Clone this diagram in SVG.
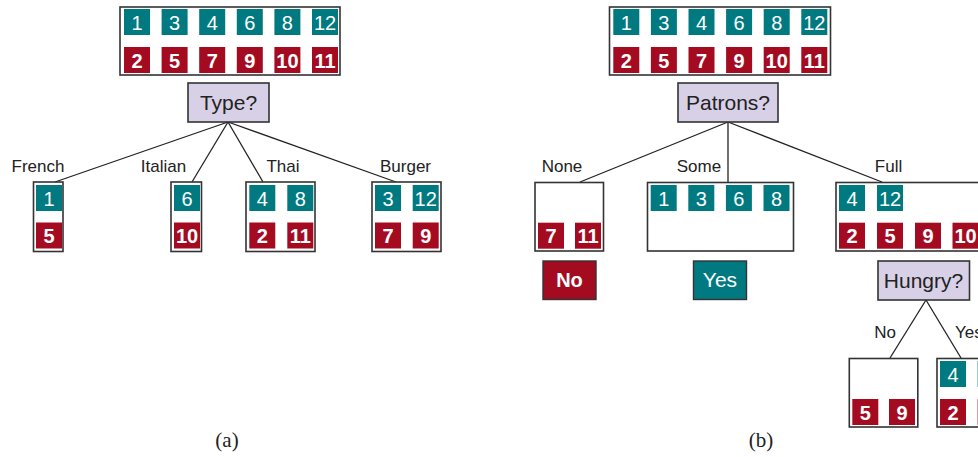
<svg xmlns="http://www.w3.org/2000/svg" width="978" height="457" viewBox="0 0 978 457">
<style>
.box{fill:#fff;stroke:#333;stroke-width:1.6}
.q{fill:#d8d0e7;stroke:#333;stroke-width:1.6}
.t{fill:#007a80}
.r{fill:#a50b20}
.tn{font-family:"Liberation Sans",Arial,sans-serif;font-size:20px;fill:#fff;text-anchor:middle}
.rn{font-family:"Liberation Sans",Arial,sans-serif;font-size:20px;font-weight:bold;fill:#fff;text-anchor:middle}
.ql{font-family:"Liberation Sans",Arial,sans-serif;font-size:21px;fill:#222;text-anchor:middle}
.bl{font-family:"Liberation Sans",Arial,sans-serif;font-size:17px;fill:#222;text-anchor:middle}
.cap{font-family:"Liberation Serif","Times New Roman",serif;font-size:21px;fill:#222;text-anchor:middle}
.edge{stroke:#222;stroke-width:1.3;fill:none}
</style>
<g id="connectors">
<line class="edge" x1="228" y1="122" x2="55" y2="182"/>
<line class="edge" x1="228" y1="122" x2="192" y2="182"/>
<line class="edge" x1="228" y1="122" x2="263" y2="182"/>
<line class="edge" x1="228" y1="122" x2="396" y2="182"/>
<line class="edge" x1="728" y1="122" x2="580" y2="182"/>
<line class="edge" x1="728" y1="122" x2="728" y2="182"/>
<line class="edge" x1="728" y1="122" x2="882" y2="182"/>
<line class="edge" x1="926" y1="300" x2="890" y2="358"/>
<line class="edge" x1="926" y1="300" x2="961" y2="358"/>
</g>
<g id="edge-labels">
<text class="bl" x="38" y="172">French</text>
<text class="bl" x="163.5" y="172">Italian</text>
<text class="bl" x="283" y="172">Thai</text>
<text class="bl" x="405.5" y="172">Burger</text>
<text class="bl" x="562" y="172">None</text>
<text class="bl" x="699" y="172">Some</text>
<text class="bl" x="888.5" y="172">Full</text>
<text class="bl" x="885" y="338">No</text>
<text class="bl" x="955" y="338" style="text-anchor:start">Yes</text>
</g>
<g id="a-root">
<rect class="box" x="120" y="7" width="220" height="68"/>
<rect class="t" x="124" y="9" width="26" height="26"/><text class="tn" x="137" y="29.5">1</text>
<rect class="t" x="161.6" y="9" width="26" height="26"/><text class="tn" x="174.6" y="29.5">3</text>
<rect class="t" x="199.2" y="9" width="26" height="26"/><text class="tn" x="212.2" y="29.5">4</text>
<rect class="t" x="236.8" y="9" width="26" height="26"/><text class="tn" x="249.8" y="29.5">6</text>
<rect class="t" x="274.4" y="9" width="26" height="26"/><text class="tn" x="287.4" y="29.5">8</text>
<rect class="t" x="312" y="9" width="26" height="26"/><text class="tn" x="325" y="29.5">12</text>
<rect class="r" x="124" y="47" width="26" height="26"/><text class="rn" x="137" y="67.5">2</text>
<rect class="r" x="161.6" y="47" width="26" height="26"/><text class="rn" x="174.6" y="67.5">5</text>
<rect class="r" x="199.2" y="47" width="26" height="26"/><text class="rn" x="212.2" y="67.5">7</text>
<rect class="r" x="236.8" y="47" width="26" height="26"/><text class="rn" x="249.8" y="67.5">9</text>
<rect class="r" x="274.4" y="47" width="26" height="26"/><text class="rn" x="287.4" y="67.5">10</text>
<rect class="r" x="312" y="47" width="26" height="26"/><text class="rn" x="325" y="67.5">11</text>
</g>
<g id="a-type">
<rect class="q" x="188" y="83" width="81" height="39"/>
<text class="ql" x="228.5" y="110">Type?</text>
</g>
<g id="a-french">
<rect class="box" x="33.5" y="182" width="29.5" height="69.5"/>
<rect class="t" x="36" y="185" width="26" height="26"/><text class="tn" x="49" y="205.5">1</text>
<rect class="r" x="36" y="222.5" width="26" height="26"/><text class="rn" x="49" y="243">5</text>
</g>
<g id="a-italian">
<rect class="box" x="171" y="182" width="30.5" height="69.5"/>
<rect class="t" x="174" y="185" width="26" height="26"/><text class="tn" x="187" y="205.5">6</text>
<rect class="r" x="174" y="222.5" width="26" height="26"/><text class="rn" x="187" y="243">10</text>
</g>
<g id="a-thai">
<rect class="box" x="246" y="182" width="69" height="69.5"/>
<rect class="t" x="249.3" y="185" width="26" height="26"/><text class="tn" x="262.3" y="205.5">4</text>
<rect class="t" x="287.3" y="185" width="26" height="26"/><text class="tn" x="300.3" y="205.5">8</text>
<rect class="r" x="249.3" y="222.5" width="26" height="26"/><text class="rn" x="262.3" y="243">2</text>
<rect class="r" x="287.3" y="222.5" width="26" height="26"/><text class="rn" x="300.3" y="243">11</text>
</g>
<g id="a-burger">
<rect class="box" x="372" y="182" width="69" height="69.5"/>
<rect class="t" x="375" y="185" width="26" height="26"/><text class="tn" x="388" y="205.5">3</text>
<rect class="t" x="412.7" y="185" width="26" height="26"/><text class="tn" x="425.7" y="205.5">12</text>
<rect class="r" x="375" y="222.5" width="26" height="26"/><text class="rn" x="388" y="243">7</text>
<rect class="r" x="412.7" y="222.5" width="26" height="26"/><text class="rn" x="425.7" y="243">9</text>
</g>
<g id="b-root">
<rect class="box" x="609.5" y="7" width="221" height="68"/>
<rect class="t" x="613.3" y="9" width="26" height="26"/><text class="tn" x="626.3" y="29.5">1</text>
<rect class="t" x="650.9" y="9" width="26" height="26"/><text class="tn" x="663.9" y="29.5">3</text>
<rect class="t" x="688.5" y="9" width="26" height="26"/><text class="tn" x="701.5" y="29.5">4</text>
<rect class="t" x="726.1" y="9" width="26" height="26"/><text class="tn" x="739.1" y="29.5">6</text>
<rect class="t" x="763.7" y="9" width="26" height="26"/><text class="tn" x="776.7" y="29.5">8</text>
<rect class="t" x="801.3" y="9" width="26" height="26"/><text class="tn" x="814.3" y="29.5">12</text>
<rect class="r" x="613.3" y="47" width="26" height="26"/><text class="rn" x="626.3" y="67.5">2</text>
<rect class="r" x="650.9" y="47" width="26" height="26"/><text class="rn" x="663.9" y="67.5">5</text>
<rect class="r" x="688.5" y="47" width="26" height="26"/><text class="rn" x="701.5" y="67.5">7</text>
<rect class="r" x="726.1" y="47" width="26" height="26"/><text class="rn" x="739.1" y="67.5">9</text>
<rect class="r" x="763.7" y="47" width="26" height="26"/><text class="rn" x="776.7" y="67.5">10</text>
<rect class="r" x="801.3" y="47" width="26" height="26"/><text class="rn" x="814.3" y="67.5">11</text>
</g>
<g id="b-patrons">
<rect class="q" x="678" y="83" width="100" height="39"/>
<text class="ql" x="728" y="110">Patrons?</text>
</g>
<g id="b-none">
<rect class="box" x="535" y="182.5" width="68.5" height="68.5"/>
<rect class="r" x="538" y="222.7" width="26" height="26"/><text class="rn" x="551" y="243.2">7</text>
<rect class="r" x="575" y="222.7" width="26" height="26"/><text class="rn" x="588" y="243.2">11</text>
</g>
<g id="b-some">
<rect class="box" x="647.5" y="182.5" width="146" height="68.5"/>
<rect class="t" x="650.7" y="185" width="26" height="26"/><text class="tn" x="663.7" y="205.5">1</text>
<rect class="t" x="688.3" y="185" width="26" height="26"/><text class="tn" x="701.3" y="205.5">3</text>
<rect class="t" x="725.9" y="185" width="26" height="26"/><text class="tn" x="738.9" y="205.5">6</text>
<rect class="t" x="763.5" y="185" width="26" height="26"/><text class="tn" x="776.5" y="205.5">8</text>
</g>
<g id="b-full">
<rect class="box" x="836" y="182.5" width="146" height="68.5"/>
<rect class="t" x="839" y="185" width="26" height="26"/><text class="tn" x="852" y="205.5">4</text>
<rect class="t" x="877" y="185" width="26" height="26"/><text class="tn" x="890" y="205.5">12</text>
<rect class="r" x="839" y="222.7" width="26" height="26"/><text class="rn" x="852" y="243.2">2</text>
<rect class="r" x="877" y="222.7" width="26" height="26"/><text class="rn" x="890" y="243.2">5</text>
<rect class="r" x="915" y="222.7" width="26" height="26"/><text class="rn" x="928" y="243.2">9</text>
<rect class="r" x="952.5" y="222.7" width="26" height="26"/><text class="rn" x="965.5" y="243.2">10</text>
</g>
<g id="b-no">
<rect x="543" y="261" width="53" height="38.5" fill="#a50b20" stroke="#333" stroke-width="1.4"/>
<text class="rn" x="569.5" y="287">No</text>
</g>
<g id="b-yes">
<rect x="693.5" y="261" width="53" height="38.5" fill="#007a80" stroke="#333" stroke-width="1.4"/>
<text class="tn" x="720" y="287" style="font-size:21px">Yes</text>
</g>
<g id="b-hungry">
<rect class="q" x="878" y="261" width="91.5" height="39"/>
<text class="ql" x="923.5" y="288">Hungry?</text>
</g>
<g id="b-hungry-no">
<rect class="box" x="849.3" y="358.5" width="68.5" height="68.5"/>
<rect class="r" x="852.3" y="399" width="26" height="26"/><text class="rn" x="865.3" y="419.5">5</text>
<rect class="r" x="889" y="399" width="26" height="26"/><text class="rn" x="902" y="419.5">9</text>
</g>
<g id="b-hungry-yes">
<rect class="box" x="937" y="358.5" width="69" height="68.5"/>
<rect class="t" x="940" y="361" width="26" height="26"/><text class="tn" x="953" y="381.5">4</text>
<rect class="t" x="977.6" y="361" width="26" height="26"/><text class="tn" x="990.6" y="381.5">12</text>
<rect class="r" x="940" y="399" width="26" height="26"/><text class="rn" x="953" y="419.5">2</text>
<rect class="r" x="977.6" y="399" width="26" height="26"/><text class="rn" x="990.6" y="419.5">10</text>
</g>
<g id="captions">
<text class="cap" x="227" y="447">(a)</text>
<text class="cap" x="761" y="447">(b)</text>
</g>
</svg>
